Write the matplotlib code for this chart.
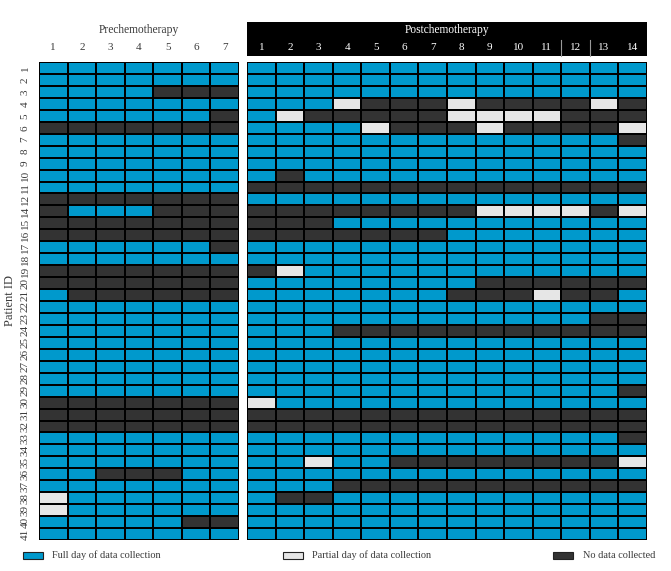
import matplotlib
matplotlib.use("Agg")
import matplotlib.pyplot as plt
import numpy as np
from matplotlib.colors import ListedColormap
from matplotlib.patches import Rectangle
from matplotlib.lines import Line2D

plt.rcParams['font.family'] = ['Liberation Serif', 'DejaVu Serif']

# Status codes: B = full day, P = partial day, D = no data collected
patient_ids = [1, 2, 3, 4, 5, 6, 7, 8, 9, 10, 11, 12, 14, 15, 16, 17, 18, 19, 20, 21,
               22, 23, 24, 25, 26, 27, 28, 29, 30, 31, 32, 33, 34, 35, 36, 37, 38, 39, 40, 41]

pre_days = [1, 2, 3, 4, 5, 6, 7]
post_days = [1, 2, 3, 4, 5, 6, 7, 8, 9, 10, 11, 12, 13, 14]

pre_status = [
    "BBBBBBB",  # 1
    "BBBBBBB",  # 2
    "BBBBDDD",  # 3
    "BBBBBBB",  # 4
    "BBBBBBD",  # 5
    "DDDDDDD",  # 6
    "BBBBBBB",  # 7
    "BBBBBBB",  # 8
    "BBBBBBB",  # 9
    "BBBBBBB",  # 10
    "BBBBBBB",  # 11
    "DDDDDDD",  # 12
    "DBBBDDD",  # 14
    "DDDDDDD",  # 15
    "DDDDDDD",  # 16
    "BBBBBBD",  # 17
    "BBBBBBB",  # 18
    "DDDDDDD",  # 19
    "DDDDDDD",  # 20
    "BDDDDDD",  # 21
    "BBBBBBB",  # 22
    "BBBBBBB",  # 23
    "BBBBBBB",  # 24
    "BBBBBBB",  # 25
    "BBBBBBB",  # 26
    "BBBBBBB",  # 27
    "BBBBBBB",  # 28
    "BBBBBBB",  # 29
    "DDDDDDD",  # 30
    "DDDDDDD",  # 31
    "DDDDDDD",  # 32
    "BBBBBBB",  # 33
    "BBBBBBB",  # 34
    "BBBBBBB",  # 35
    "BBDDDBB",  # 36
    "BBBBBBB",  # 37
    "PBBBBBB",  # 38
    "PBBBBBB",  # 39
    "BBBBBDD",  # 40
    "BBBBBBB",  # 41
]

post_status = [
    "BBBBBBBBBBBBBB",  # 1
    "BBBBBBBBBBBBBB",  # 2
    "BBBBBBBBBBBBBB",  # 3
    "BBBPDDDPDDDDPD",  # 4
    "BPDDDDDPPPPDDD",  # 5
    "BBBBPDDDPDDDDP",  # 6
    "BBBBBBBBBBBBBD",  # 7
    "BBBBBBBBBBBBBB",  # 8
    "BBBBBBBBBBBBBB",  # 9
    "BDBBBBBBBBBBBB",  # 10
    "DDDDDDDDDDDDDD",  # 11
    "BBBBBBBBBBBBBB",  # 12
    "DDDDDDDDPPPPDP",  # 14
    "DDDBBBBBBBBBBB",  # 15
    "DDDDDDDBBBBBBB",  # 16
    "BBBBBBBBBBBBBB",  # 17
    "BBBBBBBBBBBBBB",  # 18
    "DPBBBBBBBBBBBB",  # 19
    "BBBBBBBBDDDDDD",  # 20
    "BBBBBBBDDDPDDB",  # 21
    "BBBBBBBBBBBBBB",  # 22
    "BBBBBBBBBBBBDD",  # 23
    "BBBDDDDDDDDDDD",  # 24
    "BBBBBBBBBBBBBB",  # 25
    "BBBBBBBBBBBBBB",  # 26
    "BBBBBBBBBBBBBB",  # 27
    "BBBBBBBBBBBBBB",  # 28
    "BBBBBBBBBBBBBD",  # 29
    "PBBBBBBBBBBBBB",  # 30
    "DDDDDDDDDDDDDD",  # 31
    "DDDDDDDDDDDDDD",  # 32
    "BBBBBBBBBBBBBD",  # 33
    "BBBBBBBBBBBBBB",  # 34
    "BBPBBDDDDDDDDP",  # 35
    "BBBBBBBBBBBBBB",  # 36
    "BBBDDDDDDDDDDD",  # 37
    "BDDBBBBBBBBBBB",  # 38
    "BBBBBBBBBBBBBB",  # 39
    "BBBBBBBBBBBBBB",  # 40
    "BBBBBBBBBBBBBB",  # 41
]

legend_labels = ["Full day of data collection", "Partial day of data collection", "No data collected"]
colors = ["#0099cc", "#e6e6e6", "#333333"]
code_map = {"B": 0, "P": 1, "D": 2}

W, H = 671, 571
fig = plt.figure(figsize=(W / 100, H / 100), dpi=100)

def fx(x):
    return x / W

def fy(y):
    return 1 - y / H

text_col = "#3a3a3a"
cmap = ListedColormap(colors)

def draw_panel(x0, x1, status):
    ax = fig.add_axes([fx(x0), fy(540), fx(x1) - fx(x0), fy(62) - fy(540)])
    arr = np.array([[code_map[c] for c in row] for row in status])
    ax.pcolormesh(arr, cmap=cmap, vmin=-0.5, vmax=2.5, edgecolors="black", linewidth=1.1)
    ax.set_xlim(0, arr.shape[1])
    ax.set_ylim(arr.shape[0], 0)
    ax.set_xticks([])
    ax.set_yticks([])
    for s in ax.spines.values():
        s.set_visible(False)
    return ax

axL = draw_panel(39, 239, pre_status)
axR = draw_panel(247.3, 646.7, post_status)

# Row labels
axL.set_yticks(np.arange(len(patient_ids)) + 0.5)
axL.set_yticklabels([str(p) for p in patient_ids], rotation=90, va="center", ha="center",
                    fontsize=8, color=text_col)
axL.tick_params(axis="y", length=0, pad=10)
fig.text(fx(10), fy(300), "Patient ID", rotation=90, ha="center", va="center",
         fontsize=9, color=text_col)

# Pre header
fig.text(fx(139), fy(30), "Prechemotherapy", ha="center", va="center", fontsize=8.3, color=text_col)
nL = len(pre_days)
for i, d in enumerate(pre_days):
    xc = 39 + (i + 0.5) * 200 / nL
    fig.text(fx(xc), fy(47), str(d), ha="center", va="center", fontsize=8, color=text_col)

# Post header (black box)
fig.patches.append(Rectangle((fx(247.3), fy(55.7)), fx(646.7) - fx(247.3), fy(21.7) - fy(55.7),
                             transform=fig.transFigure, facecolor="black", edgecolor="none"))
fig.text(fx(447), fy(30), "Postchemotherapy", ha="center", va="center", fontsize=8.3, color="white")
nR = len(post_days)
cw = (646.7 - 247.3) / nR
for i, d in enumerate(post_days):
    xc = 247.3 + (i + 0.5) * cw
    fig.text(fx(xc), fy(47), str(d), ha="center", va="center", fontsize=8, color="white")
for k in (11, 12):
    xl = 247.3 + k * cw
    fig.lines.append(Line2D([fx(xl), fx(xl)], [fy(40), fy(56)], transform=fig.transFigure,
                            color="#999999", linewidth=0.8))

# Legend
legend_pos = [(23, 52), (283, 312), (553, 583)]
for (px, tx), lab, col in zip(legend_pos, legend_labels, colors):
    fig.patches.append(Rectangle((fx(px), fy(559)), fx(20), fy(552) - fy(559),
                                 transform=fig.transFigure, facecolor=col,
                                 edgecolor="#222222", linewidth=0.8))
    fig.text(fx(tx), fy(555.5), lab, ha="left", va="center", fontsize=7.4, color=text_col)

fig.savefig("out.png", dpi=100)
